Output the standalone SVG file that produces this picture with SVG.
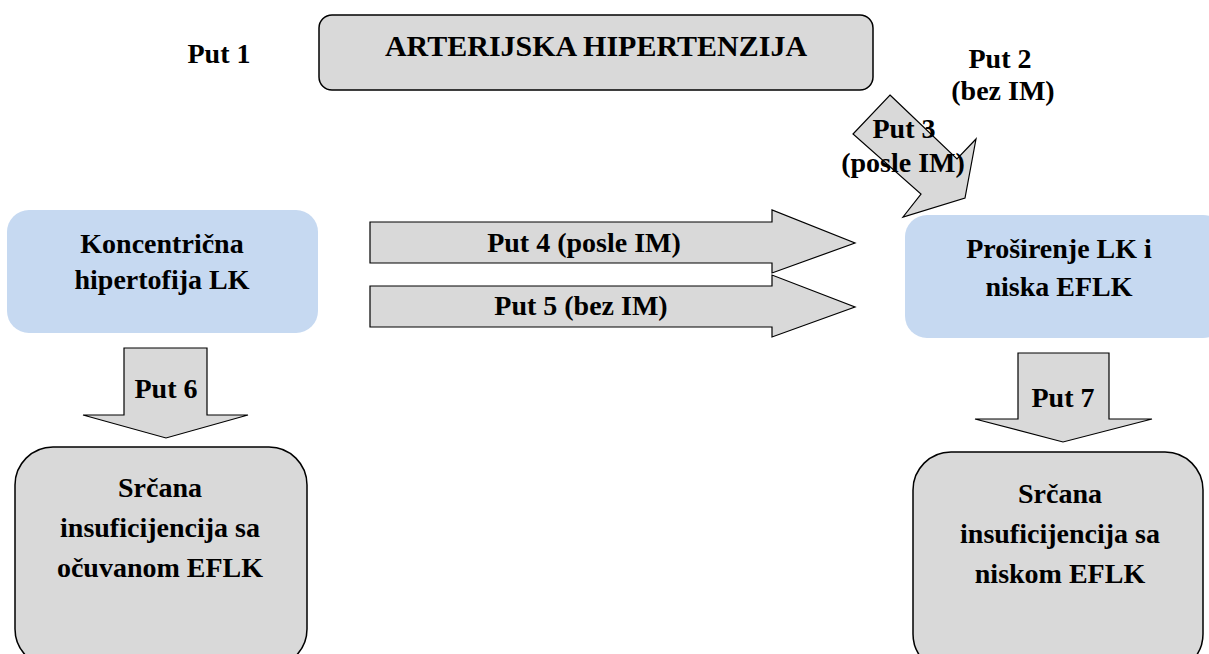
<svg xmlns="http://www.w3.org/2000/svg" width="1209" height="654" viewBox="0 0 1209 654">
<style>
.t{font-family:'Liberation Serif','Times New Roman',Times,'DejaVu Serif',serif;font-weight:700;font-size:28px;fill:#000;text-anchor:middle}
.big{font-size:30px}
.gray{fill:#d9d9d9;stroke:#000;stroke-width:1.5}
.blue{fill:#c6d9f1;stroke:none}
.arr{fill:#d9d9d9;stroke:#000;stroke-width:1.2;stroke-linejoin:miter}
</style>
<rect width="1209" height="654" fill="#fff"/>
<g id="labels">
<text class="t" x="219" y="63">Put 1</text>
<text class="t" x="1000" y="68">Put 2</text>
<text class="t" x="1003" y="100">(bez IM)</text>
</g>
<g id="node-hipertenzija">
<rect class="gray" x="319" y="15" width="554" height="75" rx="13"/>
<text class="t big" x="596" y="56">ARTERIJSKA HIPERTENZIJA</text>
</g>
<g id="node-koncentricna">
<rect class="blue" x="7" y="210" width="311" height="123" rx="22"/>
<text class="t" x="162" y="253">Koncentrična</text>
<text class="t" x="162" y="289">hipertofija LK</text>
</g>
<g id="node-prosirenje">
<rect class="blue" x="905" y="215" width="320" height="123" rx="22"/>
<text class="t" x="1059" y="258">Proširenje LK i</text>
<text class="t" x="1059" y="296">niska EFLK</text>
</g>
<g id="node-sio">
<rect class="gray" x="15" y="447" width="292" height="220" rx="38"/>
<text class="t" x="160" y="497">Srčana</text>
<text class="t" x="160" y="537">insuficijencija sa</text>
<text class="t" x="160" y="577">očuvanom EFLK</text>
</g>
<g id="node-sin">
<rect class="gray" x="913" y="452" width="290" height="220" rx="38"/>
<text class="t" x="1060" y="503">Srčana</text>
<text class="t" x="1060" y="543">insuficijencija sa</text>
<text class="t" x="1060" y="583">niskom EFLK</text>
</g>
<g id="connectors">
<polygon class="arr" points="890,95 957,159 976,139 965,198 903,217 921,194 853,134"/>
<text class="t" x="904" y="138">Put 3</text>
<text class="t" x="903" y="172">(posle IM)</text>
<polygon class="arr" points="370,222 772,222 772,210 855,243 772,273 772,263 370,263"/>
<text class="t" x="584" y="252">Put 4 (posle IM)</text>
<polygon class="arr" points="370,286 772,286 772,275 855,307 772,337 772,327 370,327"/>
<text class="t" x="581" y="315">Put 5 (bez IM)</text>
<polygon class="arr" points="124,348 207,348 207,415 248,415 166,438 83,415 124,415"/>
<text class="t" x="166" y="398">Put 6</text>
<polygon class="arr" points="1018,353 1109,353 1109,419 1152,419 1063,442 975,419 1018,419"/>
<text class="t" x="1063" y="407">Put 7</text>
</g>
</svg>
